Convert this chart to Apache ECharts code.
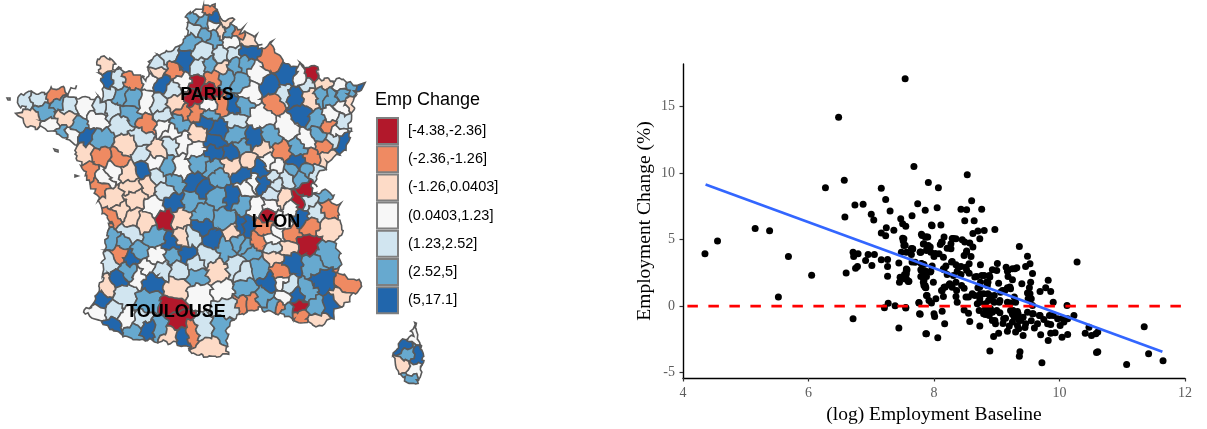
<!DOCTYPE html>
<html><head><meta charset="utf-8">
<script src="https://cdn.jsdelivr.net/npm/echarts@6/dist/echarts.min.js"></script>
<style>html,body{margin:0;padding:0;background:#fff}#c{width:1207px;height:429px}</style></head>
<body><div id="c"></div>
<script>
const classLabels=['[-4.38,-2.36]','(-2.36,-1.26]','(-1.26,0.0403]','(0.0403,1.23]','(1.23,2.52]','(2.52,5]','(5,17.1]'];
const classColors=['#B2182B','#EF8A62','#FDDBC7','#F7F7F7','#D1E5F0','#67A9CF','#2166AC'];
const legendTitle='Emp Change';
const cityNames=['PARIS','LYON','TOULOUSE'];
const cityPlaces=[[207,95],[276,222],[176,312]];
const mainlandOutline=[[190,13],[205,6],[215,5],[217,13],[223,20],[232,18],[233,27],[242,28],[242,33],[255,35],[257,45],[262,50],[272,42],[273,50],[282,58],[290,67],[302,65],[318,68],[317,78],[332,80],[342,78],[348,83],[363,85],[358,92],[353,100],[353,113],[350,123],[350,137],[347,148],[337,155],[327,163],[322,170],[313,183],[312,193],[320,193],[330,190],[333,197],[330,202],[340,205],[338,215],[343,230],[340,237],[333,243],[340,253],[340,263],[337,272],[350,278],[362,282],[360,288],[352,295],[347,303],[337,308],[330,320],[320,327],[308,323],[297,322],[287,315],[273,313],[260,308],[248,312],[233,320],[227,327],[227,350],[230,353],[217,357],[197,355],[188,348],[177,343],[163,342],[150,340],[138,340],[127,337],[113,330],[103,323],[95,318],[83,312],[93,307],[98,293],[103,273],[103,257],[107,240],[108,225],[113,225],[103,213],[98,197],[90,183],[83,167],[75,155],[78,145],[68,140],[58,133],[43,128],[27,127],[23,118],[17,115],[25,108],[20,107],[17,98],[27,93],[45,93],[50,88],[65,88],[68,97],[78,98],[93,98],[103,100],[103,87],[97,57],[112,58],[115,70],[133,72],[147,80],[150,67],[148,62],[163,53],[177,47],[187,37],[188,12]];
const mainlandZones=[[23,100,4],[39,98,4],[55,95,1],[58,102,5],[45,110,5],[68,107,4],[85,107,3],[30,120,2],[50,127,3],[67,118,2],[78,127,5],[72,135,3],[60,135,5],[98,118,3],[85,137,6],[110,110,4],[100,140,5],[127,147,2],[83,152,2],[103,157,1],[118,160,1],[140,153,4],[157,150,2],[172,143,4],[182,142,3],[142,170,6],[130,173,2],[168,168,5],[155,163,3],[90,172,1],[103,177,3],[113,170,3],[157,177,4],[148,183,2],[180,168,3],[173,183,5],[133,187,2],[98,187,1],
[106,63,2],[107,82,6],[117,82,4],[132,80,1],[108,93,4],[120,95,5],[133,98,5],[102,110,4],[122,122,4],[128,115,5],[147,102,3],[152,80,3],[162,83,6],[157,73,2],[175,68,1],[158,63,4],[167,55,4],[183,63,6],[183,82,3],[173,90,4],[158,103,4],[163,117,4],[148,125,1],[163,125,3],[143,137,4],[172,133,3],[180,123,5],[185,112,1],[177,102,2],
[198,12,3],[209,9,1],[213,18,6],[192,18,5],[203,21,5],[213,27,3],[226,23,2],[193,30,4],[208,35,5],[220,30,2],[230,32,5],[238,32,1],[213,37,5],[232,42,3],[248,40,2],[192,40,5],[203,50,4],[222,55,4],[233,53,4],[248,52,6],[270,60,1],[199,68,4],[210,67,5],[222,68,2],[235,65,5],[245,63,5],[257,72,3],[288,75,6],[270,87,6],[212,78,1],[198,83,0],[208,90,0],[192,100,0],[227,78,5],[240,82,5],[250,93,3],[233,107,6],[222,107,1],[210,107,3],[275,100,1],[283,95,4],[295,97,6],[310,75,0],[307,83,4],[302,78,3],[323,82,2],[310,98,2],[322,95,5],[330,98,5],[342,85,3],[343,93,5],[353,88,5],[358,87,6],[350,103,2],[342,107,3],[302,115,6],[318,120,5],[332,115,3],[343,122,4],[327,127,1],[337,132,3],[318,135,5],[342,143,6],[325,148,1],[335,140,4],[308,140,3],[288,128,3],[260,117,3],[243,105,5],[233,120,4],[205,122,6],[220,130,6],[210,113,5],[195,113,1],[198,133,2],[235,135,5],[255,140,6],[270,137,5],[215,142,6],[197,150,3],[242,147,5],[213,152,6],[233,153,6],[263,148,2],[282,152,1],[298,148,5],[312,157,1],[297,163,6],[328,158,2],[270,163,3],[247,160,2],[233,165,2],[212,168,5],[200,163,5],[197,183,6],[218,177,5],[243,175,6],[262,170,6],[252,183,3],[273,177,4],[287,178,4],[293,170,5],[300,177,5],[315,173,4],[308,170,5],[275,165,3],
[167,190,4],[173,202,6],[193,202,5],[202,187,6],[217,198,5],[233,198,6],[155,208,3],[165,218,0],[180,218,2],[202,213,5],[225,220,5],[202,228,6],[243,228,6],[233,232,2],[135,197,2],[113,200,2],[120,212,2],[112,217,1],[145,222,2],[132,220,2],[112,240,5],[123,242,5],[130,233,4],[120,253,1],[132,258,6],[138,252,5],[155,238,5],[172,243,6],[182,238,2],[193,237,4],[212,240,6],[227,248,5],[238,243,5],[250,250,5],[207,255,4],[187,255,6],[173,255,5],[157,257,3],[108,263,4],[130,272,5],[147,268,3],[160,270,4],[180,270,4],[195,263,4],[198,277,5],[217,273,2],[238,267,4],[152,280,6],[118,280,6],[107,287,2],[123,295,4],[138,275,3],[177,288,2],[200,293,3],[223,292,3],[245,290,5],[245,302,1],[100,300,6],[98,313,3],[113,312,4],[127,320,3],[113,325,6],[133,332,5],[142,320,4],[148,328,6],[160,328,5],[147,302,5],[173,308,0],[177,320,0],[183,335,6],[192,333,1],[170,335,2],[203,330,4],[222,328,5],[208,348,2],[227,307,4],
[307,190,0],[299,202,0],[308,202,4],[327,195,5],[328,208,1],[315,213,4],[283,198,2],[272,195,4],[270,205,3],[257,207,3],[242,203,5],[247,187,3],[263,183,6],[277,183,4],[292,207,3],[268,215,0],[302,218,6],[310,225,1],[330,230,2],[283,223,3],[265,228,1],[245,228,6],[278,233,3],[290,235,1],[258,242,1],[272,240,3],[308,245,0],[288,248,2],[273,248,4],[247,247,5],[327,253,5],[273,257,2],[292,262,6],[313,265,5],[260,267,5],[243,270,4],[280,272,1],[322,283,6],[347,283,1],[272,283,6],[280,283,3],[287,287,4],[308,292,5],[298,297,6],[283,297,3],[340,298,2],[332,305,6],[315,307,5],[299,307,0],[280,308,1],[272,305,5],[265,298,5],[248,302,1],[300,317,1],[317,322,2],[287,312,5]];
const corsicaOutline=[[415,323],[418,338],[423,352],[422,370],[417,384],[406,382],[397,370],[393,353],[403,340],[413,337],[413,325]];
const corsicaZones=[[413,333,3],[402,346,6],[408,354,5],[418,356,6],[402,366,2],[413,370,3],[410,380,5]];
const islandOutlines=[[[7,98],[10,98],[10,100],[8,100]],[[54,149],[58,150],[58,152],[55,151]],[[75,175],[78,176],[78,177],[75,177]]];
const islandClasses=[3,3,3];
const baselineLog=[4.35,4.55,5.15,5.38,5.68,6.05,5.52,6.6,6.71,7.54,6.48,7.68,6.27,6.57,7.16,7.91,7.23,6.74,6.87,7.3,7.74,6.58,7.0,7.04,7.47,7.65,7.86,7.5,7.55,7.24,7.36,7.16,7.23,7.5,7.8,7.88,7.96,6.71,6.79,6.72,6.95,7.05,6.91,6.78,6.75,7.01,7.16,7.26,7.26,7.26,7.44,7.45,7.56,7.56,7.46,7.54,7.59,7.51,7.52,7.48,7.66,7.56,7.64,7.78,7.7,7.83,7.91,7.88,7.27,7.38,7.21,7.55,7.76,7.77,7.44,7.87,7.8,7.8,7.83,7.83,7.86,7.88,8.53,8.07,8.6,8.05,8.43,8.52,8.76,8.49,8.64,7.97,8.11,8.97,8.8,8.7,8.62,8.73,7.81,7.9,8.16,8.29,8.35,8.45,8.13,7.52,8.1,8.27,7.84,7.89,8.21,8.57,8.62,9.36,7.66,7.79,7.95,8.27,8.52,8.48,8.59,9.49,8,8.15,8.08,7.65,8.29,10.28,9.01,8.56,8.74,9.53,9.46,9.15,9.32,9.25,8.35,8.43,8.51,8.19,7.97,7.84,8.93,9.0,9.17,9.57,8.16,8.37,7.79,7.87,7.95,7.57,8.56,8.68,8.8,8.88,9.18,9.25,7.79,7.88,8.21,8.43,9.82,9.54,9.4,9.03,8.74,8.86,7.99,7.84,7.6,7.53,8.35,8.24,8.29,8.48,8.16,8.13,7.84,7.87,8.7,8.85,9.17,9.09,9.22,9.52,9.49,9.69,9.78,9.86,9.55,7.89,8.15,8.03,7.92,8.35,8.37,8.51,8.61,8.74,8.73,8.86,8.96,9.06,8.9,9.04,9.17,9.28,9.22,9.3,7.76,7.96,8.69,8.82,8.96,9.9,10.12,9.57,7.55,8.13,7.78,8,8.01,8.48,8.55,8.72,8.82,8.93,8.88,8.82,9.22,9.33,9.49,9.57,9.68,9.84,9.97,10.23,10.13,9.28,9.38,9.14,8.93,8.98,8.57,8.17,8.73,9.25,9.33,9.46,9.65,9.6,9.81,9.86,10.01,10.07,9.17,9.3,9.03,8.95,9.42,9.7,9.86,9.93,10.04,10.13,10.41,9.82,7.88,8.06,10.51,10.47,10.61,10.58,11.35,8.89,9.37,9.36,10.61,10.59,9.72,11.07,11.42,11.65,
7.54,7.64,7.78,7.86,7.94,8.02,8.12,8.31,8.52,8.49,7.56,7.56,7.8,7.83,7.86,7.94,8.15,8.28,8.39,8.52,8.65,8.76,8.89,8.84,8.73,8.25,8.36,8.18,8.65,8.79,8.89,9.13,9.05,8.87,8.73,8.55,8.79,8.87,9.0,9.26,9.29,9.34,8.97,9.11,9.42,9.58,9.69,9.5,9.53,9.21,9.18,9.29,8.31,8.44,8.12,9.35,9.45,9.2,9.1,9.55,9.75,9.9,10.05,9.35,9.25,9.05,8.9];
const empChange=[3.93,4.9,5.84,5.66,3.73,2.33,0.68,2.5,-0.95,17.1,14.2,10.5,8.9,9.47,8.87,9.3,8.02,7.6,7.65,7.15,7.7,6.7,6.9,6.47,6.57,6.8,7.2,6.2,6.0,5.9,5.7,5.5,5.3,5.1,5.4,5.2,6.1,4.05,3.93,3.73,3.88,3.88,3.43,2.98,2.85,3.05,3.48,3.5,2.98,2.25,3.25,1.8,2.8,2.43,2.18,2.05,1.85,4.9,4.55,4.05,4.3,4.05,3.88,4.05,3.3,4.68,4.55,4.18,0.22,0.03,-0.12,-0.1,0.28,-0.58,-1.65,-2.08,3.18,2.68,2.18,1.8,1.43,0.8,9.87,8.9,7.92,7.39,7.29,7.24,7.29,6.42,6.42,6.04,6.09,5.76,5.69,5.64,5.46,5.06,5.31,5.19,5.19,5.09,5.06,4.99,4.81,5.06,4.64,4.69,4.69,4.31,4.36,4.74,4.44,4.49,4.31,4.06,4.06,4.31,4.14,3.81,3.73,3.76,3.73,3.68,3.93,3.31,3.36,3.31,3.21,3.18,3.11,3.18,2.98,2.93,2.88,2.81,3.11,2.98,2.93,3.01,3.01,3.13,2.73,2.68,2.63,2.46,2.73,2.63,2.73,2.63,2.63,2.73,2.48,2.23,2.31,2.31,2.23,1.98,2.23,2.23,2.38,2.38,1.95,1.8,1.68,1.73,1.8,1.8,1.8,1.93,1.88,2.38,1.8,1.6,1.43,1.35,1.43,1.18,1.55,1.38,1.38,1.55,1.38,1.18,1.3,1.38,0.98,1.1,1.38,1.1,0.55,0.8,0.73,0.55,0.43,0.73,0.3,0.68,0.93,0.93,0.55,0.93,0.8,1.05,0.55,0.3,0.3,0.68,0.23,0.3,0.23,0.23,0.18,0.18,0.3,0.3,0.05,0.05,-0.13,-0.38,-0.6,-0.58,-0.78,-0.28,-0.53,-0.33,-0.2,-0.45,-0.7,-0.63,-0.33,-0.4,-0.45,-0.58,-0.7,-0.7,-0.95,-0.7,-0.95,-0.83,-1.08,-0.9,-1.08,-1.33,-1.15,-1.33,-1.5,-1.2,-1.45,-1.33,-1.33,-1.65,-1.33,-1.38,-1.45,-1.2,-1.88,-1.95,-2.03,-2.28,-2.2,-2.15,-2.03,-2.0,-2.33,-2.13,-2.03,-2.58,-2.08,-2.38,-2.2,-1.58,-1.95,-2.08,-1.55,-3.38,-3.43,-3.76,-3.43,-3.48,-4.26,-4.39,-3.58,-4.11,
4.58,4.33,4.07,5.2,4.45,3.95,4.83,5.08,4.07,4.83,2.69,2.06,3.2,2.44,1.56,2.57,2.82,3.32,2.94,2.69,2.19,2.31,2.19,1.81,1.44,1.69,1.18,1.44,0.81,0.93,0.81,1.18,0.43,0.43,0.3,0.68,-0.57,-0.57,-0.32,-0.32,-0.7,-0.57,-1.08,-0.95,-0.83,-0.57,-0.7,0.55,0.93,1.44,2.69,2.82,2.31,1.56,1.18,-1.7,-1.6,-1.5,-1.3,-1.1,-1.0,-0.7,-0.9,-1.0,-0.6,-0.5,-0.2];
const trendLine=[[4.36,9.15],[11.64,-3.43]];
const zeroLine=[[4.07,0],[12,0]];
const xTicks=[4,6,8,10,12];
const yTicks=[-5,0,5,10,15];

function clipHalf(poly,a,b,c){
  const out=[];
  for(let i=0;i<poly.length;i++){
    const p=poly[i],q=poly[(i+1)%poly.length];
    const dp=a*p[0]+b*p[1]-c,dq=a*q[0]+b*q[1]-c;
    if(dp<=0)out.push(p);
    if((dp<0&&dq>0)||(dp>0&&dq<0)){const t=dp/(dp-dq);out.push([p[0]+t*(q[0]-p[0]),p[1]+t*(q[1]-p[1])]);}
  }
  return out;
}
function partition(outline,zones){
  return zones.map(z=>{
    let poly=outline;
    for(const o of zones){
      if(o===z)continue;
      const a=o[0]-z[0],b=o[1]-z[1];
      poly=clipHalf(poly,a,b,(o[0]*o[0]+o[1]*o[1]-z[0]*z[0]-z[1]*z[1])/2);
      if(poly.length<3)break;
    }
    return {poly,cls:z[2]};
  }).filter(c=>c.poly.length>=3);
}
// borders are irregular, not straight: bend every ring through one shared smooth warp so neighbours still meet
function warp(p){
  const x=p[0],y=p[1];
  return [x+1.3*Math.sin(y*.62+x*.17)+.8*Math.sin(x*1.05+y*.41+1.3)+.5*Math.sin(y*1.7-x*.6),
          y+1.3*Math.sin(x*.58-y*.21+.7)+.8*Math.sin(y*1.12+x*.37+2.1)+.5*Math.sin(x*1.8+y*.5)];
}
function bend(poly){
  const out=[];
  for(let i=0;i<poly.length;i++){
    const p=poly[i],q=poly[(i+1)%poly.length];
    const n=Math.max(1,Math.ceil(Math.hypot(q[0]-p[0],q[1]-p[1])/2.5));
    for(let k=0;k<n;k++)out.push(warp([p[0]+(q[0]-p[0])*k/n,p[1]+(q[1]-p[1])*k/n]));
  }
  return out;
}
const cells=[...partition(mainlandOutline,mainlandZones),...partition(corsicaOutline,corsicaZones)]
  .map(c=>({poly:bend(c.poly),cls:c.cls}))
  .concat(islandOutlines.map((poly,i)=>({poly,cls:islandClasses[i]})));
const H=429;
const toGeo=p=>[p[0],H-p[1]];
const features=cells.map((c,i)=>{
  const ring=c.poly.map(toGeo);ring.push(ring[0]);
  return {type:'Feature',properties:{name:'z'+i},geometry:{type:'Polygon',coordinates:[ring]}};
});
echarts.registerMap('zones',{type:'FeatureCollection',features});
const serif='"Liberation Serif","DejaVu Serif",serif',sans='"Liberation Sans",Arial,sans-serif';
const chart=echarts.init(document.getElementById('c'),null,{renderer:'canvas'});
chart.setOption({
  animation:false,backgroundColor:'#fff',
  title:{text:legendTitle,left:375,top:91,padding:0,textStyle:{fontFamily:sans,fontSize:18,fontWeight:'normal',color:'#000'}},
  legend:{orient:'vertical',left:376,top:117,padding:0,itemWidth:21,itemHeight:26,itemGap:0.2,selectedMode:false,icon:'rect',
    data:classLabels,textStyle:{fontFamily:sans,fontSize:14.5,color:'#000',padding:[0,0,0,5]}},
  geo:{map:'zones',aspectScale:1,silent:true,roam:false,boundingCoords:[[0,H],[1207,0]],layoutCenter:['50%','50%'],layoutSize:1207,
    label:{show:false},itemStyle:{borderColor:'#595959',borderWidth:1.6,areaColor:'#fff'},
    emphasis:{disabled:true},
    regions:cells.map((c,i)=>({name:'z'+i,itemStyle:{areaColor:classColors[c.cls]}}))},
  grid:{left:683,top:64,width:502,height:314,outerBoundsMode:'none'},
  xAxis:{type:'value',min:4,max:12,interval:2,splitLine:{show:false},
    name:'(log) Employment Baseline',nameLocation:'middle',nameGap:26,nameTextStyle:{fontFamily:serif,fontSize:19.5,color:'#000'},
    axisLine:{onZero:false,lineStyle:{color:'#000',width:1.4}},axisTick:{length:3.5,lineStyle:{color:'#333',width:1.2},customValues:xTicks},
    axisLabel:{fontFamily:serif,fontSize:14,color:'#5c5c5c',margin:8,customValues:xTicks}},
  yAxis:{type:'value',min:-5.4,max:18.2,splitLine:{show:false},
    name:'Employment Change (%)',nameLocation:'middle',nameGap:28,nameTextStyle:{fontFamily:serif,fontSize:19.5,color:'#000'},
    axisLine:{onZero:false,lineStyle:{color:'#000',width:1.4}},axisTick:{length:3.5,lineStyle:{color:'#333',width:1.2},customValues:yTicks},
    axisLabel:{fontFamily:serif,fontSize:14,color:'#5c5c5c',margin:8,customValues:yTicks}},
  series:[
    ...classLabels.map((n,i)=>({name:n,type:'scatter',coordinateSystem:'geo',geoIndex:0,data:[],
      itemStyle:{color:classColors[i],opacity:1,borderColor:'#7f7f7f',borderWidth:1.2}})),
    {type:'scatter',coordinateSystem:'geo',geoIndex:0,symbolSize:0,silent:true,z:10,itemStyle:{opacity:1},
      data:cityNames.map((n,i)=>({name:n,value:toGeo(cityPlaces[i])})),
      label:{show:true,position:'inside',formatter:'{b}',fontFamily:sans,fontWeight:'bold',fontSize:18,color:'#000',opacity:1}},
    {type:'scatter',xAxisIndex:0,yAxisIndex:0,symbolSize:7,silent:true,itemStyle:{color:'#000',opacity:1},z:3,
      data:baselineLog.map((x,i)=>[x,empChange[i]])},
    {type:'line',data:zeroLine,symbol:'none',silent:true,z:4,lineStyle:{color:'#ff0000',width:2.6,type:[10.5,10.5]}},
    {type:'line',data:trendLine,symbol:'none',silent:true,z:5,lineStyle:{color:'#3366FF',width:2.7}}
  ]
});
</script></body></html>
